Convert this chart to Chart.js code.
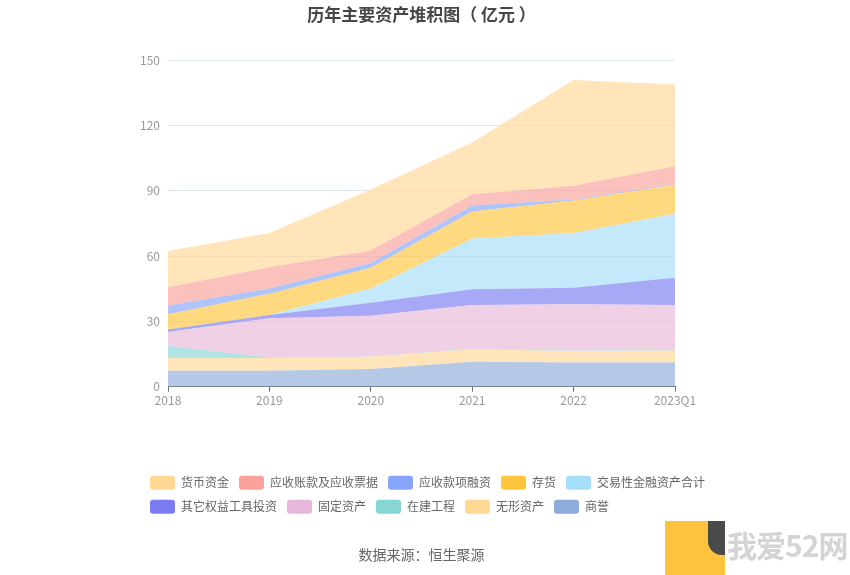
<!DOCTYPE html>
<html>
<head>
<meta charset="utf-8">
<script src="https://cdn.jsdelivr.net/npm/chart.js@4/dist/chart.umd.min.js"></script>
<style>
  html, body { margin: 0; padding: 0; background: #fff; }
  #wrap { position: relative; width: 850px; height: 575px; }
  #wm-box { position: absolute; left: 665px; top: 521px; width: 60px; height: 54px; background: #FDC23E; }
  #wm-dark { position: absolute; left: 708px; top: 521px; width: 17px; height: 34px; background: #4a4a4a; border-radius: 0 0 0 14px; }
  #wm-text { position: absolute; left: 727px; top: 522px; font: bold 30px "Noto Sans CJK SC", sans-serif; color: #d4d4d4;
             text-shadow: 1px 1px 0 #fff, -1px -1px 0 #fff, 1px -1px 0 #fff, -1px 1px 0 #fff; letter-spacing: -1px; }
</style>
</head>
<body>
<div id="wrap">
  <canvas id="c" width="850" height="575"></canvas>
  <div id="wm-box"></div><div id="wm-dark"></div>
  <div id="wm-text">我爱52网</div>
</div>
<script>
const categories = ['2018', '2019', '2020', '2021', '2022', '2023Q1'];
const yTicks = [0, 30, 60, 90, 120, 150];

// series listed bottom of the stack to top
const goodwill      = [7.3, 7.3, 8.1, 11.4, 11.1, 11.1];   // 商誉
const intangible    = [5.9, 5.9, 5.6, 5.8, 5.2, 5.5];      // 无形资产
const construction  = [5.5, 0.2, 0.2, 0.2, 0.2, 0.2];      // 在建工程
const fixedAssets   = [6.4, 18.0, 18.7, 20.1, 21.3, 20.7]; // 固定资产
const otherEquity   = [1.2, 1.5, 6.0, 7.3, 7.6, 12.5];     // 其它权益工具投资
const tradingFin    = [0, 0, 6.5, 23.2, 25.2, 29.4];       // 交易性金融资产合计
const inventory     = [7.0, 9.8, 9.5, 12.4, 14.9, 13.4];   // 存货
const receivFin     = [4.0, 2.4, 2.2, 2.8, 0.4, 0.4];      // 应收款项融资
const receivables   = [8.4, 9.8, 5.7, 5.2, 6.4, 8.0];      // 应收账款及应收票据
const cash          = [16.6, 15.7, 28.0, 23.7, 48.5, 37.6];// 货币资金

const series = [
  { name: '商誉', data: goodwill, color: '#8EACD9' },
  { name: '无形资产', data: intangible, color: '#FFD894' },
  { name: '在建工程', data: construction, color: '#87D6D6' },
  { name: '固定资产', data: fixedAssets, color: '#E6B7D8' },
  { name: '其它权益工具投资', data: otherEquity, color: '#7B7CF2' },
  { name: '交易性金融资产合计', data: tradingFin, color: '#A5DEF8' },
  { name: '存货', data: inventory, color: '#FFC53D' },
  { name: '应收款项融资', data: receivFin, color: '#87A5FB' },
  { name: '应收账款及应收票据', data: receivables, color: '#F9A19A' },
  { name: '货币资金', data: cash, color: '#FFD894' }
];

function withAlpha(hex, a) {
  const r = parseInt(hex.slice(1, 3), 16), g = parseInt(hex.slice(3, 5), 16), b = parseInt(hex.slice(5, 7), 16);
  return `rgba(${r},${g},${b},${a})`;
}

Chart.defaults.font.family = '"Noto Sans CJK SC", "Noto Sans", sans-serif';

new Chart(document.getElementById('c'), {
  type: 'line',
  data: {
    labels: categories,
    datasets: series.map((s, i) => ({
      label: s.name,
      data: s.data,
      baseColor: s.color,
      backgroundColor: withAlpha(s.color, 0.66),
      borderColor: 'rgba(0,0,0,0)',
      borderWidth: 0,
      pointRadius: 0,
      pointHoverRadius: 0,
      tension: 0,
      fill: i === 0 ? 'origin' : '-1',
      yAxisID: 'y'
    }))
  },
  options: {
    responsive: false,
    animation: false,
    layout: { padding: { left: 140, right: 100, top: 0, bottom: 12 } },
    scales: {
      x: {
        type: 'category',
        offset: false,
        grid: { display: true, drawOnChartArea: false, drawTicks: true, tickLength: 5, color: '#6E7079' },
        border: { display: true, color: '#6E7079', width: 1 },
        ticks: { color: '#999', font: { size: 12 }, padding: 2, maxRotation: 0, autoSkip: false },
        afterFit: (s) => { s.height = 79; }
      },
      y: {
        stacked: true,
        min: 0, max: 150,
        afterBuildTicks: (s) => { s.ticks = yTicks.map(v => ({ value: v })); },
        grid: { color: '#E0E6F1', drawTicks: false },
        border: { display: false },
        ticks: { color: '#999', font: { size: 12 }, padding: 8 },
        afterFit: (s) => { s.width = 28; }
      },
      y2: {
        position: 'right',
        display: true,
        min: 0, max: 150,
        grid: { display: false },
        border: { display: false },
        ticks: { display: false },
        afterFit: (s) => { s.width = 75; }
      }
    },
    plugins: {
      title: {
        display: true,
        fullSize: false,
        text: '历年主要资产堆积图（ 亿元 ）',
        color: '#464646',
        font: { size: 17, weight: 'bold' },
        padding: { top: 4, bottom: 35.6 }
      },
      subtitle: {
        display: true,
        fullSize: false,
        position: 'bottom',
        text: '数据来源：恒生聚源',
        color: '#666',
        font: { size: 14, weight: 'normal' },
        padding: { top: 22.5, bottom: 0 }
      },
      legend: {
        position: 'bottom',
        align: 'start',
        reverse: true,
        labels: {
          boxWidth: 25,
          boxHeight: 14,
          padding: 10,
          color: '#666',
          font: { size: 12 },
          useBorderRadius: true,
          borderRadius: 3,
          generateLabels: (chart) => {
            const items = Chart.defaults.plugins.legend.labels.generateLabels(chart);
            return items.map(it => {
              const c = chart.data.datasets[it.datasetIndex].baseColor;
              it.fillStyle = c; it.strokeStyle = c; it.lineWidth = 0;
              return it;
            });
          }
        }
      },
      tooltip: { enabled: false }
    }
  }
});
</script>
</body>
</html>
